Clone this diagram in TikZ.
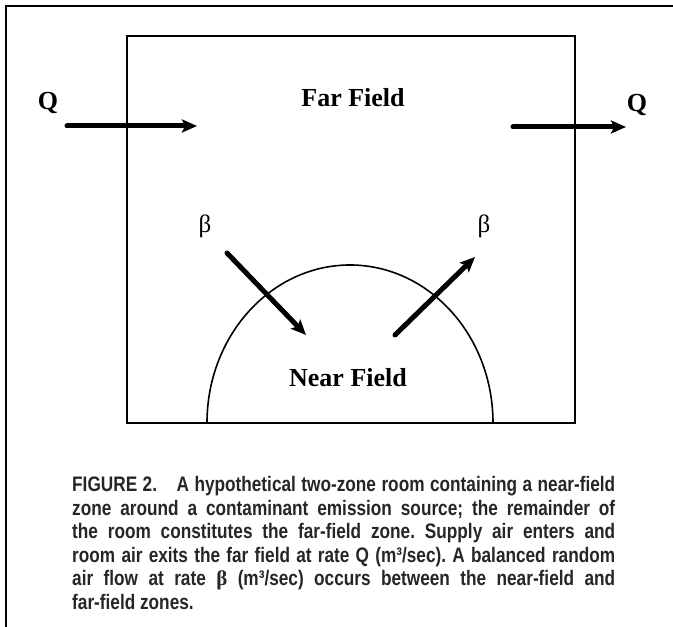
\documentclass[tikz,border=0pt]{standalone}
\usepackage{fontspec}
\setmainfont{Liberation Serif}
\newfontfamily\captionfont[FakeStretch=0.82]{Liberation Sans}
\usetikzlibrary{arrows.meta}

\begin{document}
\begin{tikzpicture}[
  x=1pt, y=1pt,
  >={Stealth[length=15pt, width=13pt, inset=3pt]},
  frame line/.style={
    line width=2pt
  },
  room wall/.style={
    line width=2pt
  },
  zone edge/.style={
    line width=1.6pt
  },
  flow arrow/.style={
    ->,
    line width=5pt,
    line cap=round
  },
  zone label/.style={
    anchor=base,
    inner sep=0pt,
    font=\fontsize{26}{30}\selectfont\bfseries
  },
  beta label/.style={
    anchor=base,
    inner sep=0pt,
    font=\fontsize{25}{30}\selectfont
  },
  caption text/.style={
    anchor=base west,
    inner sep=0pt,
    text width=543pt,
    align=justify,
    text=black!85,
    font=\captionfont\bfseries\fontsize{21}{23.5}\selectfont
  }
]

\useasboundingbox (0, 0) rectangle (673, 627);

\draw[frame line] (6, 0) -- (6, 621) -- (673, 621);
\draw[room wall] (127, 204) rectangle (575, 591);
\draw[zone edge] (207, 204) arc[start angle=180, end angle=0, x radius=143pt, y radius=158pt];

\coordinate (q in tail) at (67, 501);
\coordinate (q in tip) at (197, 501);
\coordinate (q out tail) at (513, 500);
\coordinate (q out tip) at (626, 500);
\coordinate (beta in tail) at (227, 374);
\coordinate (beta in tip) at (306, 292);
\coordinate (beta out tail) at (395, 292);
\coordinate (beta out tip) at (475, 370);

\node[zone label] (far) at (353, 520) {Far Field};
\node[zone label] (near) at (348, 240) {Near Field};
\node[zone label] (q in) at (48, 517) {Q};
\node[zone label] (q out) at (637, 515) {Q};
\node[beta label] (beta in) at (205, 394) {β};
\node[beta label] (beta out) at (484, 394) {β};

\draw[flow arrow] (q in tail) -- (q in tip);
\draw[flow arrow] (q out tail) -- (q out tip);
\draw[flow arrow] (beta in tail) -- (beta in tip);
\draw[flow arrow] (beta out tail) -- (beta out tip);

\node[caption text] (caption) at (72, 135) {\frenchspacing\hyphenpenalty=10000\exhyphenpenalty=10000\tolerance=10000
  FIGURE 2.\hspace{14pt} A hypothetical two-zone room containing a near-field\linebreak
  zone around a contaminant emission source; the remainder of\linebreak
  the room constitutes the far-field zone. Supply air enters and\linebreak
  room air exits the far field at rate Q (m³/sec). A balanced random\linebreak
  air flow at rate {\rmfamily β} (m³/sec) occurs between the near-field and\linebreak
  far-field zones.};

\end{tikzpicture}
\end{document}
